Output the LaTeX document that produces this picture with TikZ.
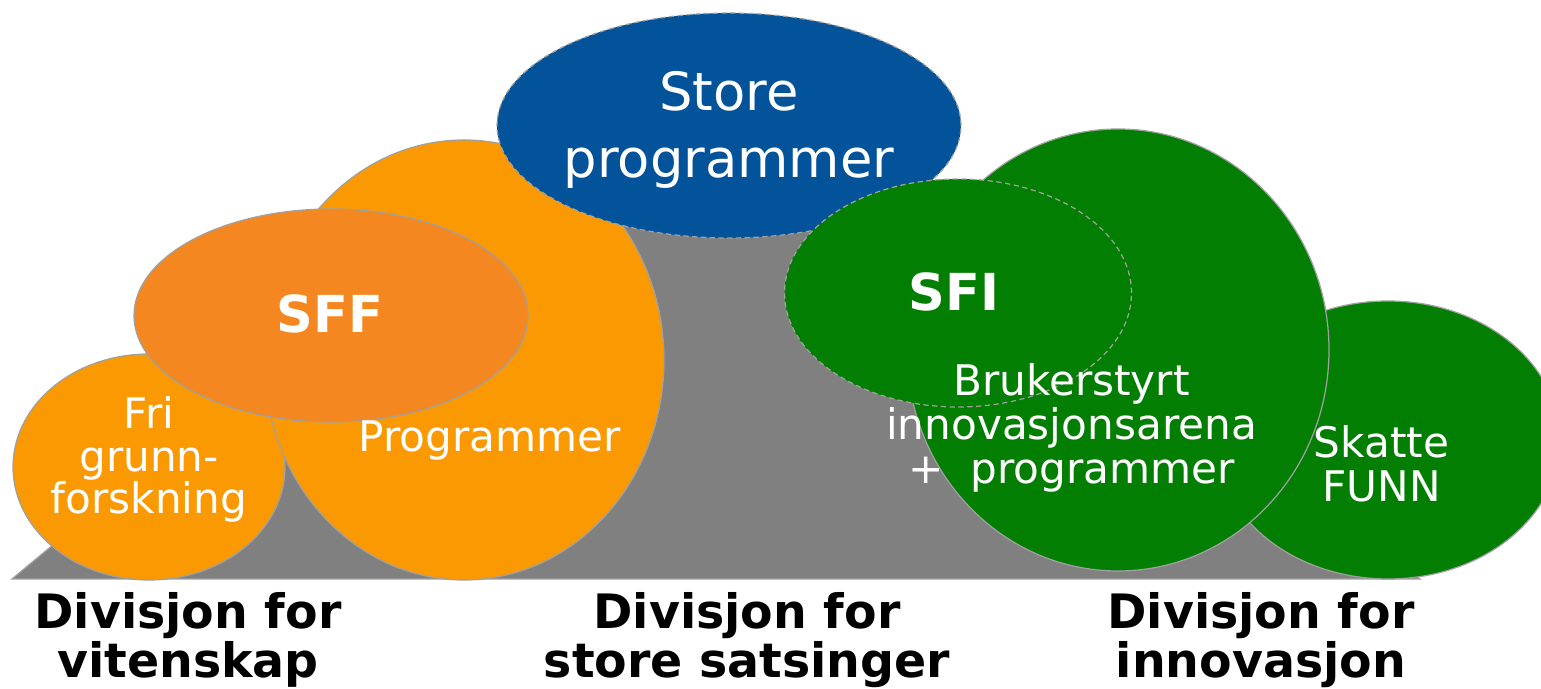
\documentclass[tikz,border=0pt]{standalone}
\usepackage{fontspec}
\setmainfont{DejaVu Sans}
\definecolor{mountain}{HTML}{808080}
\definecolor{edgegray}{HTML}{A0A0A0}
\definecolor{orangeA}{HTML}{FB9902}
\definecolor{orangeB}{HTML}{F58721}
\definecolor{storeblue}{HTML}{02539A}
\definecolor{nrgreen}{HTML}{027F02}

\begin{document}
\begin{tikzpicture}[x=0.02cm, y=0.02cm,
  blob/.style={draw=edgegray, line width=0.7pt},
  dashblob/.style={blob, dash pattern=on 3pt off 2pt},
  inner/.style={text=white, align=center, font=\fontsize{24}{24}\selectfont},
  head/.style={text=white, anchor=base, font=\bfseries\fontsize{29}{29}\selectfont},
  division/.style={align=center, font=\bfseries\fontsize{27}{27.8}\selectfont}]
\useasboundingbox (0,0) rectangle (1541,689);
\def\fri{(149,222) ellipse [x radius=136, y radius=113]}
\def\prog{(464,329) ellipse [x radius=200, y radius=220]}
\def\sff{(331,373.5) ellipse [x radius=197, y radius=106.5]}
\def\store{(729,563.5) ellipse [x radius=232, y radius=112.5]}
\def\skatte{(1388,249) ellipse [x radius=172, y radius=139]}
\def\bia{(1118,339) ellipse [x radius=211, y radius=221]}
\def\sfi{(958,396) ellipse [x radius=173.5, y radius=114]}
% the grey base
\filldraw[fill=mountain, draw=edgegray, line width=0.7pt] (12,110) -- (449,474) -- (983,474) -- (1420,110) -- cycle;
% divisions
\filldraw[blob, fill=orangeA] \fri;
\filldraw[blob, fill=orangeA] \prog;
\filldraw[blob, fill=orangeB] \sff;
\filldraw[dashblob, fill=storeblue] \store;
\filldraw[blob, fill=nrgreen] \skatte;
\filldraw[blob, fill=nrgreen] \bia;
\filldraw[dashblob, fill=nrgreen] \sfi;
% texts
\node[inner] (friText) at (149,229.5) {Fri\\grunn-\\forskning};
\node[inner, anchor=base] (progText) at (490,237) {Programmer};
\node[head] (sffText) at (330,356) {SFF};
\node[inner, font=\fontsize{30}{38}\selectfont] (storeText) at (729,559) {Store\\programmer};
\node[head] (sfiText) at (954,378) {SFI};
\node[inner, font=\fontsize{24}{25}\selectfont] (biaText) at (1071.5,261.5) {Brukerstyrt\\innovasjonsarena\\+~ programmer};
\node[inner, font=\fontsize{24}{25}\selectfont] (skatteText) at (1381.5,225.5) {Skatte\\FUNN};
\node[division] (vitText) at (188,49) {Divisjon for\\vitenskap};
\node[division] (storeDiv) at (747,49) {Divisjon for\\store satsinger};
\node[division] (innDiv) at (1261,49) {Divisjon for\\innovasjon};
\end{tikzpicture}
\end{document}
